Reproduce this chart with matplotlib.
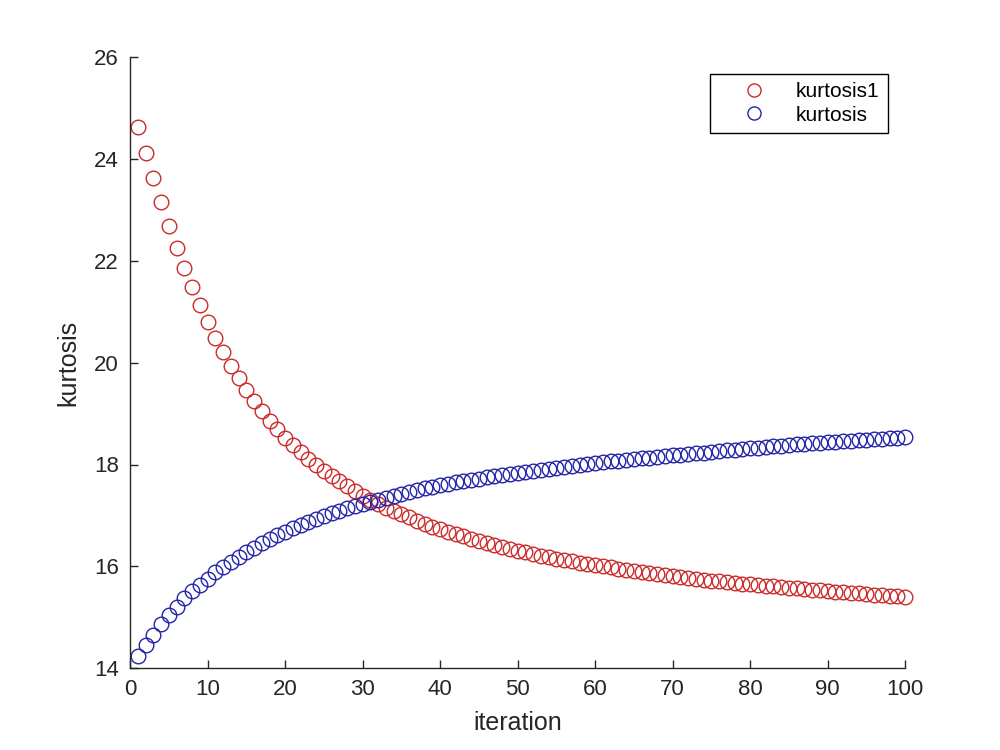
import matplotlib
matplotlib.use("Agg")
import matplotlib.pyplot as plt

# ── Data ──────────────────────────────────────────────────────────────────────

iterations = list(range(1, 101))

kurtosis1 = [
    24.63, 24.12, 23.62, 23.15, 22.69, 22.26, 21.86, 21.48, 21.13, 20.80,
    20.49, 20.21, 19.94, 19.69, 19.46, 19.25, 19.05, 18.86, 18.69, 18.53,
    18.38, 18.24, 18.11, 17.99, 17.88, 17.77, 17.67, 17.57, 17.48, 17.39,
    17.31, 17.23, 17.15, 17.08, 17.02, 16.96, 16.90, 16.84, 16.78, 16.73,
    16.68, 16.63, 16.59, 16.54, 16.50, 16.46, 16.42, 16.38, 16.35, 16.31,
    16.28, 16.25, 16.21, 16.18, 16.15, 16.12, 16.10, 16.07, 16.05, 16.02,
    16.00, 15.98, 15.95, 15.93, 15.91, 15.89, 15.87, 15.85, 15.83, 15.81,
    15.79, 15.77, 15.76, 15.74, 15.72, 15.71, 15.69, 15.68, 15.66, 15.65,
    15.63, 15.62, 15.61, 15.59, 15.58, 15.57, 15.55, 15.54, 15.53, 15.51,
    15.50, 15.49, 15.48, 15.47, 15.46, 15.44, 15.43, 15.42, 15.41, 15.40,
]

kurtosis = [
    14.24, 14.45, 14.66, 14.86, 15.04, 15.21, 15.37, 15.51, 15.64, 15.76,
    15.88, 15.99, 16.09, 16.19, 16.28, 16.37, 16.45, 16.53, 16.61, 16.68,
    16.75, 16.81, 16.87, 16.93, 16.99, 17.04, 17.09, 17.14, 17.19, 17.23,
    17.27, 17.31, 17.35, 17.39, 17.43, 17.46, 17.50, 17.53, 17.56, 17.59,
    17.62, 17.65, 17.67, 17.70, 17.72, 17.75, 17.77, 17.79, 17.81, 17.83,
    17.85, 17.87, 17.89, 17.91, 17.93, 17.95, 17.97, 17.99, 18.01, 18.02,
    18.04, 18.06, 18.07, 18.09, 18.10, 18.12, 18.13, 18.15, 18.16, 18.18,
    18.19, 18.21, 18.22, 18.23, 18.25, 18.26, 18.28, 18.29, 18.31, 18.32,
    18.33, 18.35, 18.36, 18.37, 18.39, 18.40, 18.41, 18.42, 18.43, 18.44,
    18.45, 18.46, 18.47, 18.48, 18.49, 18.50, 18.51, 18.52, 18.53, 18.54,
]

x_ticks = [0, 10, 20, 30, 40, 50, 60, 70, 80, 90, 100]
y_ticks = [14, 16, 18, 20, 22, 24, 26]

# ── Figure ────────────────────────────────────────────────────────────────────

plt.rcParams["font.family"] = ["Liberation Sans", "DejaVu Sans"]
axis_grey = "#262626"

fig = plt.figure(figsize=(10, 7.5), dpi=100)
ax = fig.add_axes([0.13, 0.109, 0.775, 0.815])

ax.plot(iterations, kurtosis1, "o", mfc="none", mec="#cc2a2a", ms=10.5, mew=1.0,
        label="kurtosis1", clip_on=False)
ax.plot(iterations, kurtosis, "o", mfc="none", mec="#2424a8", ms=10.5, mew=1.0,
        label="kurtosis", clip_on=False)

ax.set_xlim(0, 100)
ax.set_ylim(14, 26)
ax.set_xticks(x_ticks)
ax.set_yticks(y_ticks)

for side in ("top", "right"):
    ax.spines[side].set_visible(False)
for side in ("left", "bottom"):
    ax.spines[side].set_color(axis_grey)
    ax.spines[side].set_linewidth(1.0)

ax.tick_params(direction="in", length=6, width=1.0, colors=axis_grey,
               labelsize=16, pad=8)

ax.set_xlabel("iteration", fontsize=18, color=axis_grey, labelpad=8)
ax.set_ylabel("kurtosis", fontsize=18, color=axis_grey, labelpad=10)

leg = ax.legend(loc="upper right", bbox_to_anchor=(0.978, 0.972),
                fontsize=15, fancybox=False, framealpha=1,
                edgecolor="black", borderpad=0.4, handletextpad=0.3,
                handlelength=3.45, labelspacing=0.2, borderaxespad=0,
                markerscale=0.9)
leg.get_frame().set_linewidth(1.0)

fig.savefig("out.png", dpi=100)
plt.close()
